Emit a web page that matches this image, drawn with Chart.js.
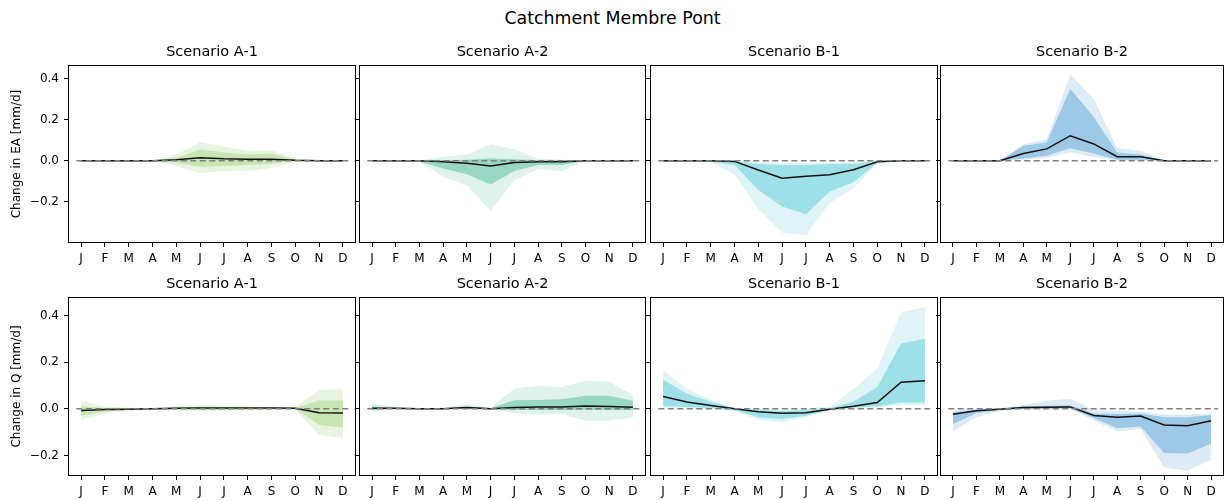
<!DOCTYPE html>
<html>
<head>
<meta charset="utf-8">
<script src="https://cdn.jsdelivr.net/npm/chart.js@4.4.1/dist/chart.umd.min.js"></script>
<style>
    body { margin: 0; background: #fff; width: 1225px; height: 500px; position: relative; overflow: hidden; font-family: "DejaVu Sans", sans-serif; }
    #suptitle { position: absolute; left: 0; top: 7px; width: 1225px; text-align: center; font-size: 17.4px; line-height: 22px; color: #000; }
    canvas { position: absolute; }
</style>
</head>
<body>
<div id="suptitle">Catchment Membre Pont</div>
<script>
const months = ['J', 'F', 'M', 'A', 'M', 'J', 'J', 'A', 'S', 'O', 'N', 'D'];
const yTicks = [-0.2, 0, 0.2, 0.4];
const zeroSpan = [-0.2, 11.3];

// Change in EA
const eaA1Med   = [0, 0, 0, 0, 0.005, 0.015, 0.01, 0.008, 0.008, 0.002, 0, 0];
const eaA1InLo  = [0, 0, 0, 0, -0.01, -0.03, -0.025, -0.02, -0.015, 0, 0, 0];
const eaA1InHi  = [0, 0, 0, 0, 0.015, 0.055, 0.04, 0.03, 0.035, 0.005, 0, 0];
const eaA1OutLo = [0, 0, 0, 0, -0.025, -0.06, -0.05, -0.05, -0.035, -0.005, 0, 0];
const eaA1OutHi = [0, 0, 0, 0, 0.03, 0.09, 0.07, 0.05, 0.05, 0.01, 0, 0];

const eaA2Med   = [0, 0, 0, -0.005, -0.012, -0.025, -0.008, -0.005, -0.005, 0, 0, 0];
const eaA2InLo  = [0, 0, -0.005, -0.037, -0.066, -0.115, -0.05, -0.02, -0.02, 0, 0, 0];
const eaA2InHi  = [0, 0, 0, 0.003, 0.005, 0.012, 0.008, 0.002, 0.002, 0, 0, 0];
const eaA2OutLo = [0, 0, -0.005, -0.078, -0.12, -0.243, -0.095, -0.04, -0.05, 0, 0, 0];
const eaA2OutHi = [0, 0, 0.003, 0.02, 0.03, 0.08, 0.055, 0.01, 0.005, 0, 0, 0];

const eaB1Med   = [0, 0, 0, -0.003, -0.045, -0.085, -0.075, -0.068, -0.044, -0.005, 0, 0];
const eaB1InLo  = [0, 0, -0.005, -0.021, -0.142, -0.223, -0.26, -0.15, -0.105, -0.01, 0, 0];
const eaB1InHi  = [0, 0, 0, -0.002, -0.016, -0.02, -0.02, -0.016, -0.015, -0.003, 0, 0];
const eaB1OutLo = [0, 0, -0.008, -0.066, -0.235, -0.35, -0.363, -0.206, -0.134, -0.015, 0, 0];
const eaB1OutHi = [0, 0, 0, 0, -0.005, -0.01, -0.01, -0.008, -0.008, 0, 0, 0];

const eaB2Med   = [0, 0, 0, 0.035, 0.058, 0.122, 0.082, 0.02, 0.02, 0, 0, 0];
const eaB2InLo  = [0, 0, 0, 0.011, 0.024, 0.061, 0.035, 0.005, 0.005, 0, 0, 0];
const eaB2InHi  = [0, 0, 0, 0.073, 0.089, 0.35, 0.213, 0.04, 0.03, 0, 0, 0];
const eaB2OutLo = [0, 0, 0, 0.005, 0.015, 0.04, 0.02, 0.002, 0, 0, 0, 0];
const eaB2OutHi = [0, 0, 0.002, 0.079, 0.105, 0.42, 0.3, 0.063, 0.047, 0.003, 0, 0];

// Change in Q
const qA1Med   = [-0.007, -0.003, -0.002, 0, 0.002, 0.003, 0.003, 0.003, 0.003, 0.002, -0.017, -0.018];
const qA1InLo  = [-0.03, -0.012, -0.005, -0.001, -0.003, -0.005, -0.004, -0.003, -0.002, -0.001, -0.069, -0.08];
const qA1InHi  = [0.01, 0.003, 0.002, 0.002, 0.006, 0.008, 0.008, 0.007, 0.006, 0.004, 0.036, 0.035];
const qA1OutLo = [-0.047, -0.02, -0.008, -0.002, -0.006, -0.01, -0.008, -0.006, -0.004, -0.003, -0.112, -0.126];
const qA1OutHi = [0.036, 0.01, 0.004, 0.002, 0.01, 0.015, 0.013, 0.01, 0.008, 0.006, 0.081, 0.084];

const qA2Med   = [0.002, 0.002, 0, 0, 0.006, 0, 0.005, 0.008, 0.008, 0.012, 0.01, 0.007];
const qA2InLo  = [-0.005, 0, -0.001, -0.001, 0, -0.001, -0.005, -0.005, -0.005, -0.005, -0.005, -0.005];
const qA2InHi  = [0.01, 0.003, 0.001, 0.001, 0.01, 0.002, 0.037, 0.038, 0.041, 0.056, 0.056, 0.034];
const qA2OutLo = [-0.012, -0.003, -0.002, -0.001, -0.003, -0.002, -0.019, -0.026, -0.022, -0.051, -0.05, -0.036];
const qA2OutHi = [0.024, 0.005, 0.002, 0.002, 0.021, 0.003, 0.087, 0.099, 0.093, 0.12, 0.116, 0.059];

const qB1Med   = [0.053, 0.029, 0.014, 0, -0.013, -0.019, -0.017, -0.002, 0.011, 0.027, 0.114, 0.12];
const qB1InLo  = [0.011, 0.008, 0.003, -0.005, -0.036, -0.044, -0.03, -0.005, 0.005, 0.01, 0.027, 0.027];
const qB1InHi  = [0.124, 0.064, 0.03, 0.002, -0.005, -0.01, -0.005, 0.002, 0.031, 0.093, 0.28, 0.3];
const qB1OutLo = [0.005, 0.002, 0, -0.01, -0.047, -0.057, -0.035, -0.01, 0, 0.005, 0.015, 0.015];
const qB1OutHi = [0.164, 0.086, 0.04, 0.003, 0, -0.005, 0, 0.01, 0.085, 0.173, 0.413, 0.436];

const qB2Med   = [-0.023, -0.008, -0.002, 0.005, 0.007, 0.008, -0.029, -0.036, -0.031, -0.069, -0.073, -0.051];
const qB2InLo  = [-0.066, -0.018, -0.005, 0, 0, 0.002, -0.04, -0.083, -0.076, -0.189, -0.192, -0.15];
const qB2InHi  = [-0.015, -0.003, 0, 0.01, 0.013, 0.015, -0.02, -0.022, -0.02, -0.036, -0.036, -0.027];
const qB2OutLo = [-0.097, -0.036, -0.01, -0.002, -0.002, 0, -0.05, -0.097, -0.087, -0.25, -0.265, -0.219];
const qB2OutHi = [-0.01, 0, 0.002, 0.015, 0.034, 0.043, -0.005, -0.01, -0.012, -0.025, -0.025, -0.02];

// band colours per scenario: [outer, inner]
const colA1 = ['#e7f4df', '#c8e6b4'];
const colA2 = ['#dff2ec', '#97d7c3'];
const colB1 = ['#dff4f7', '#9de0e7'];
const colB2 = ['#ddebf6', '#9dc9e6'];

Chart.defaults.font.family = '"DejaVu Sans", sans-serif';
Chart.defaults.color = '#000';

const colLeft = [68, 359, 650, 940];
const colWidth = [288, 287, 288, 284];
const rowTop = [65, 297];
const rowHeight = [178, 179];
const rowRange = [[-0.40, 0.466], [-0.288, 0.479]];
const rowLabel = ['Change in EA [mm/d]', 'Change in Q [mm/d]'];

const panels = [
    {row: 0, col: 0, title: 'Scenario A-1', c: colA1, d: [eaA1Med, eaA1InLo, eaA1InHi, eaA1OutLo, eaA1OutHi]},
    {row: 0, col: 1, title: 'Scenario A-2', c: colA2, d: [eaA2Med, eaA2InLo, eaA2InHi, eaA2OutLo, eaA2OutHi]},
    {row: 0, col: 2, title: 'Scenario B-1', c: colB1, d: [eaB1Med, eaB1InLo, eaB1InHi, eaB1OutLo, eaB1OutHi]},
    {row: 0, col: 3, title: 'Scenario B-2', c: colB2, d: [eaB2Med, eaB2InLo, eaB2InHi, eaB2OutLo, eaB2OutHi]},
    {row: 1, col: 0, title: 'Scenario A-1', c: colA1, d: [qA1Med, qA1InLo, qA1InHi, qA1OutLo, qA1OutHi]},
    {row: 1, col: 1, title: 'Scenario A-2', c: colA2, d: [qA2Med, qA2InLo, qA2InHi, qA2OutLo, qA2OutHi]},
    {row: 1, col: 2, title: 'Scenario B-1', c: colB1, d: [qB1Med, qB1InLo, qB1InHi, qB1OutLo, qB1OutHi]},
    {row: 1, col: 3, title: 'Scenario B-2', c: colB2, d: [qB2Med, qB2InLo, qB2InHi, qB2OutLo, qB2OutHi]},
];

// box around the plot area + subplot title centred on it
const panelBox = {
    id: 'panelBox',
    afterDraw(chart, args, opts) {
        const {ctx, chartArea: a} = chart;
        ctx.save();
        ctx.strokeStyle = '#000';
        ctx.lineWidth = 1;
        ctx.strokeRect(a.left + 0.5, a.top + 0.5, a.right - a.left - 1, a.bottom - a.top - 1);
        ctx.fillStyle = '#000';
        ctx.font = '14.5px "DejaVu Sans"';
        ctx.textAlign = 'center';
        ctx.textBaseline = 'middle';
        ctx.fillText(opts.title, (a.left + a.right) / 2, a.top - 12.5);
        ctx.restore();
    }
};

const pts = arr => arr.map((v, i) => ({x: i, y: v}));
const fmt = v => (v === 0 ? '0.0' : v.toFixed(1)).replace('-', '\u2212');

panels.forEach(p => {
    const yW = p.col === 0 ? 68 : 4;
    const titleH = 24, xH = 30;
    const plotW = colWidth[p.col], plotH = rowHeight[p.row];
    const canvas = document.createElement('canvas');
    canvas.width = yW + plotW + 1;
    canvas.height = titleH + plotH + xH;
    canvas.style.left = (colLeft[p.col] - yW) + 'px';
    canvas.style.top = (rowTop[p.row] - titleH) + 'px';
    document.body.appendChild(canvas);

    const [med, inLo, inHi, outLo, outHi] = p.d;
    const band = {borderWidth: 0, pointRadius: 0, tension: 0};

    new Chart(canvas, {
        type: 'line',
        data: {
            datasets: [
                {...band, data: pts(outLo), fill: false, order: 5},
                {...band, data: pts(outHi), fill: '-1', backgroundColor: p.c[0], order: 4},
                {...band, data: pts(inLo), fill: false, order: 3},
                {...band, data: pts(inHi), fill: '-1', backgroundColor: p.c[1], order: 3},
                {data: pts(med), borderColor: '#111', borderWidth: 1.5, pointRadius: 0, fill: false, order: 2},
                {data: zeroSpan.map(x => ({x: x, y: 0})), borderColor: '#7f7f7f', borderWidth: 1.6,
                    borderDash: [6, 3.5], pointRadius: 0, fill: false, order: 1},
            ]
        },
        options: {
            responsive: false,
            animation: false,
            devicePixelRatio: 1,
            layout: {padding: {top: titleH, right: 1, left: 0, bottom: 0}},
            plugins: {
                legend: {display: false},
                tooltip: {enabled: false},
                panelBox: {title: p.title},
            },
            scales: {
                x: {
                    type: 'linear',
                    min: -0.55,
                    max: 11.55,
                    afterBuildTicks: s => { s.ticks = months.map((m, i) => ({value: i})); },
                    afterFit: s => { s.height = xH; },
                    ticks: {callback: v => months[v], autoSkip: false, maxRotation: 0, padding: 5, font: {size: 12}},
                    grid: {drawOnChartArea: false, drawTicks: true, tickLength: 4, color: '#000'},
                    border: {display: false},
                },
                y: {
                    min: rowRange[p.row][0],
                    max: rowRange[p.row][1],
                    afterBuildTicks: s => { s.ticks = yTicks.map(v => ({value: v})); },
                    afterFit: s => { s.width = yW; },
                    ticks: {display: p.col === 0, callback: fmt, padding: 5, font: {size: 12}},
                    grid: {drawOnChartArea: false, drawTicks: true, tickLength: 4, color: '#000'},
                    border: {display: false},
                    title: {display: p.col === 0, text: rowLabel[p.row], font: {size: 12}, padding: {top: 10, bottom: 0}},
                }
            }
        },
        plugins: [panelBox]
    });
});
</script>
</body>
</html>
